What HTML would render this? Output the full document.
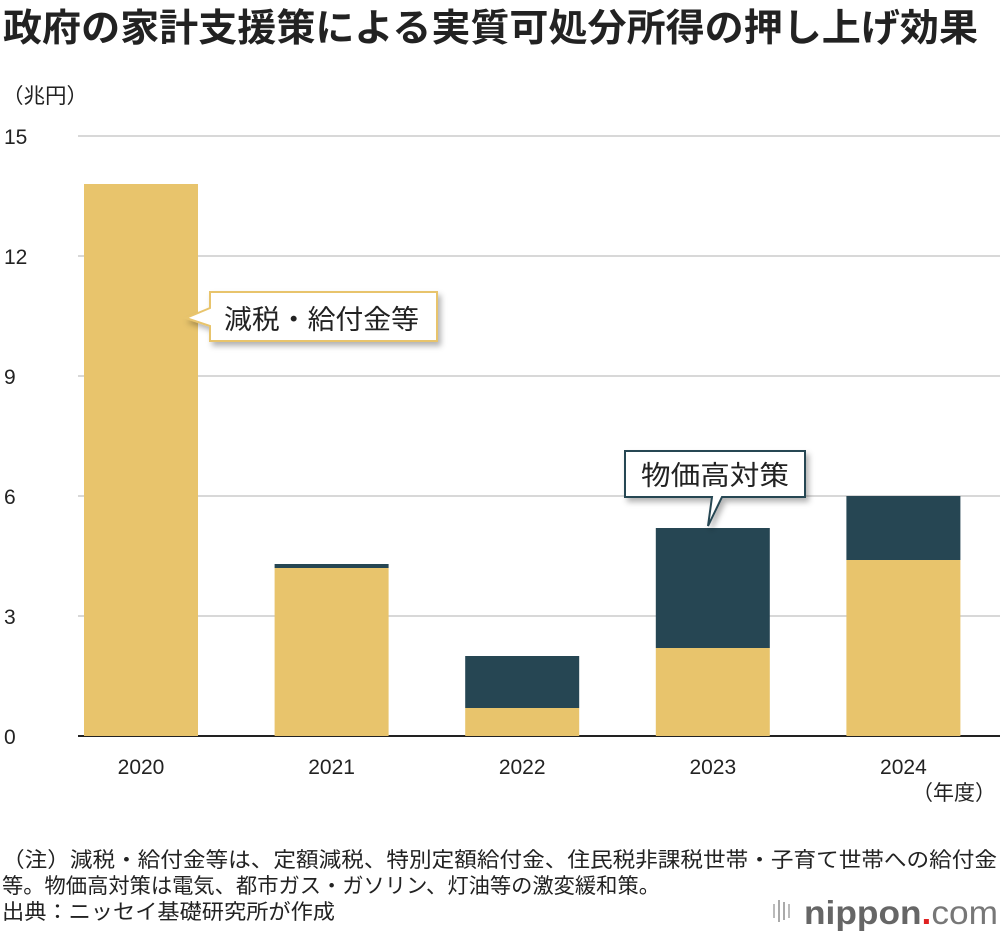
<!DOCTYPE html>
<html><head><meta charset="utf-8">
<style>
html,body{margin:0;padding:0;background:#fff;}
body{width:1000px;height:936px;overflow:hidden;font-family:"Liberation Sans","Noto Sans CJK JP",sans-serif;}
svg text{font-family:"Liberation Sans","Noto Sans CJK JP",sans-serif;}
</style></head>
<body>
<svg id="chart" width="1000" height="936" viewBox="0 0 1000 936">
<defs>
<filter id="sh" x="-10%" y="-10%" width="130%" height="140%"><feDropShadow dx="3" dy="4" stdDeviation="3" flood-color="#000" flood-opacity="0.3"/></filter>
</defs>
<text x="3" y="41" font-size="38" font-weight="bold" fill="#222" textLength="975" lengthAdjust="spacingAndGlyphs">政府の家計支援策による実質可処分所得の押し上げ効果</text>
<text x="2" y="103" font-size="21" fill="#222" textLength="86" lengthAdjust="spacingAndGlyphs">（兆円）</text>
<g id="grid"></g>
<g id="bars"></g>
<g id="xlabels"></g>
<text x="996" y="800" font-size="21" fill="#222" text-anchor="end">（年度）</text>
<g filter="url(#sh)">
<path d="M210,292 H437 V341 H210 V326 L186,318 L210,308 Z" fill="#fff" stroke="#e8c46c" stroke-width="2"/>
</g>
<text x="224" y="329" font-size="27" fill="#222" textLength="195" lengthAdjust="spacingAndGlyphs">減税・給付金等</text>
<g filter="url(#sh)">
<path d="M625,451 H805 V497 H722 L708,526 L712,497 H625 Z" fill="#fff" stroke="#264653" stroke-width="2"/>
</g>
<text x="641" y="485" font-size="27" fill="#222" textLength="148" lengthAdjust="spacingAndGlyphs">物価高対策</text>
<text x="2" y="867" font-size="21" fill="#222" textLength="995" lengthAdjust="spacingAndGlyphs">（注）減税・給付金等は、定額減税、特別定額給付金、住民税非課税世帯・子育て世帯への給付金</text>
<text x="2" y="893" font-size="21" fill="#222" textLength="658" lengthAdjust="spacingAndGlyphs">等。物価高対策は電気、都市ガス・ガソリン、灯油等の激変緩和策。</text>
<text x="2" y="919" font-size="21" fill="#222" textLength="333" lengthAdjust="spacingAndGlyphs">出典：ニッセイ基礎研究所が作成</text>
<g>
<rect x="773" y="904" width="2" height="14" fill="#bbb"/><rect x="778" y="900" width="2" height="22" fill="#aaa"/><rect x="783" y="902" width="2" height="18" fill="#aaa"/><rect x="788" y="904" width="2" height="14" fill="#bbb"/>
<text x="804" y="924" font-size="33" fill="#666" font-weight="bold" textLength="194" lengthAdjust="spacingAndGlyphs">nippon<tspan fill="#e02020">.</tspan><tspan font-weight="normal" fill="#777">com</tspan></text>
</g>
</svg>
<script>
const years = ["2020","2021","2022","2023","2024"];
const taxBenefits = [13.8, 4.2, 0.7, 2.2, 4.4];
const priceMeasures = [0, 0.1, 1.3, 3.0, 1.6];
const yTicks = [0, 3, 6, 9, 12, 15];
const NS = "http://www.w3.org/2000/svg";
const y0 = 736, pxPerUnit = 40, left = 78, right = 1000, slot = 190.6, barW = 114, firstCenter = 141;
const yScale = v => y0 - v * pxPerUnit;
const xCenter = i => firstCenter + i * slot;
function mk(tag, attrs, parent){const e=document.createElementNS(NS,tag);for(const k in attrs)e.setAttribute(k,attrs[k]);parent.appendChild(e);return e;}
const grid=document.getElementById('grid'), bars=document.getElementById('bars'), xl=document.getElementById('xlabels');
yTicks.forEach(t=>{
  const l=mk('line',{x1:left,x2:right,y1:yScale(t),y2:yScale(t),stroke:t===0?'#222':'#ccc','stroke-width':t===0?2:1.5},grid);
  
  
  const tx=mk('text',{x:4,y:yScale(t)+8,'font-size':21,fill:'#222'},grid);
  tx.textContent=t;
  
  
});
years.forEach((yr,i)=>{
  const cx=xCenter(i), a=taxBenefits[i], b=priceMeasures[i];
  const r1=mk('rect',{x:cx-barW/2,y:yScale(a),width:barW,height:a*pxPerUnit,fill:'#e8c46c'},bars);
  
  
  if(b>0){
    const r2=mk('rect',{x:cx-barW/2,y:yScale(a+b),width:barW,height:b*pxPerUnit,fill:'#264653'},bars);
    
    
  }
  const t=mk('text',{x:cx,y:774,'font-size':21,fill:'#222','text-anchor':'middle'},xl);
  t.textContent=yr;
  
  
});
</script>
</body></html>
